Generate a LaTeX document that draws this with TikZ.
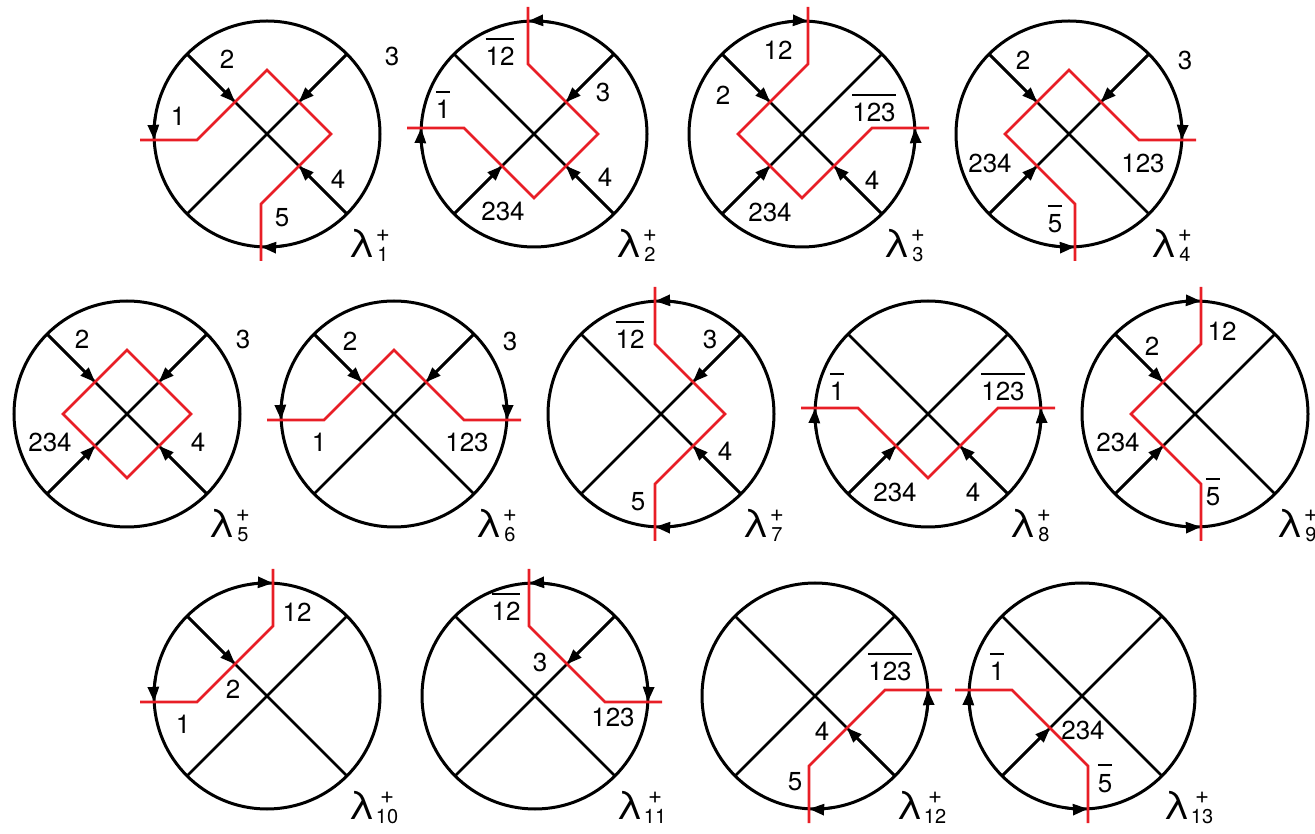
\documentclass[tikz,border=0pt]{standalone}
\usepackage{fontspec}
\setmainfont{TeX Gyre Heros}
\usetikzlibrary{arrows.meta}
\definecolor{pathred}{RGB}{232,30,38}
\newcommand\ob[1]{\vbox{\hrule height 1.5pt\kern 8pt\hbox{#1}}}
\newcommand\lam[1]{{\fontsize{39}{39}\selectfont λ}\kern1pt\raisebox{-4pt}{\fontsize{20}{20}\selectfont\begin{tabular}[b]{@{}c@{}}{\fontsize{24}{24}\selectfont+}\\#1\end{tabular}}}
\tikzset{
    rim/.style={draw=black,line width=3pt},
    xline/.style={draw=black,line width=2.6pt},
    redpath/.style={draw=pathred,line width=2.6pt},
    arrowed/.style={-{Triangle[length=15pt,width=11pt]},line width=2.6pt},
    lab/.style={inner sep=0pt,anchor=base,font=\fontsize{26}{26}\selectfont,yshift=-9pt},
    tag/.style={inner sep=0pt,anchor=base west}
}

\begin{document}
\begin{tikzpicture}[x=1pt,y=1pt]
\useasboundingbox (0,0) rectangle (1315,833);

% discs with their crosses
\foreach \n/\x/\y in {1/267/699,2/534/699,3/802/699,4/1069/699,
    5/127/419,6/394/419,7/661/419,8/928/419,9/1195/419,
    10/267/137,11/535/137,12/815/137,13/1082/137}{
  \coordinate (c\n) at (\x,\y);
  \draw[rim] (c\n) circle (113);
  \begin{scope}[shift={(c\n)}]
    \draw[xline] (135:113) -- (315:113);
    \draw[xline] (45:113) -- (225:113);
    \node[tag] (lam\n) at (81,-124) {\lam{\n}};
  \end{scope}
}

% lambda 1
\begin{scope}[shift={(c1)}]
  \draw[arrowed] (171:113) arc (171:183:113);
  \draw[arrowed] (279:113) arc (279:267:113);
  \draw[arrowed] (135:113) -- (135:45);
  \draw[arrowed] (45:113) -- (45:45);
  \draw[arrowed] (315:113) -- (315:45);
  \draw[redpath] (-127,-6) -- (-70,-6) -- (0,64) -- (64,0) -- (-6,-70) -- (-6,-127);
  \node[lab] (t1-1) at (-89,17) {1};
  \node[lab] (t1-2) at (-40,74) {2};
  \node[lab] (t1-3) at (125,77) {3};
  \node[lab] (t1-4) at (71,-46) {4};
  \node[lab] (t1-5) at (15,-84) {5};
\end{scope}

% lambda 2
\begin{scope}[shift={(c2)}]
  \draw[arrowed] (81:113) arc (81:93:113);
  \draw[arrowed] (189:113) arc (189:177:113);
  \draw[arrowed] (45:113) -- (45:45);
  \draw[arrowed] (225:113) -- (225:45);
  \draw[arrowed] (315:113) -- (315:45);
  \draw[redpath] (-6,127) -- (-6,70) -- (64,0) -- (0,-64) -- (-70,6) -- (-127,6);
  \node[lab] (t2-12) at (-34,77) {\ob{12}};
  \node[lab] (t2-1) at (-91,24) {\ob{1}};
  \node[lab] (t2-3) at (69,41) {3};
  \node[lab] (t2-4) at (71,-44) {4};
  \node[lab] (t2-234) at (-31,-78) {234};
\end{scope}

% lambda 3
\begin{scope}[shift={(c3)}]
  \draw[arrowed] (99:113) arc (99:87:113);
  \draw[arrowed] (-9:113) arc (-9:3:113);
  \draw[arrowed] (135:113) -- (135:45);
  \draw[arrowed] (225:113) -- (225:45);
  \draw[arrowed] (315:113) -- (315:45);
  \draw[redpath] (6,127) -- (6,70) -- (-64,0) -- (0,-64) -- (70,6) -- (127,6);
  \node[lab] (t3-12) at (-24,83) {12};
  \node[lab] (t3-2) at (-79,38) {2};
  \node[lab] (t3-123) at (72,21) {\ob{123}};
  \node[lab] (t3-4) at (70,-47) {4};
  \node[lab] (t3-234) at (-32,-79) {234};
\end{scope}

% lambda 4
\begin{scope}[shift={(c4)}]
  \draw[arrowed] (9:113) arc (9:-3:113);
  \draw[arrowed] (261:113) arc (261:273:113);
  \draw[arrowed] (135:113) -- (135:45);
  \draw[arrowed] (45:113) -- (45:45);
  \draw[arrowed] (225:113) -- (225:45);
  \draw[redpath] (127,-6) -- (70,-6) -- (0,64) -- (-64,0) -- (6,-70) -- (6,-127);
  \node[lab] (t4-2) at (-46,73) {2};
  \node[lab] (t4-3) at (116,73) {3};
  \node[lab] (t4-234) at (-79,-30) {234};
  \node[lab] (t4-123) at (74,-30) {123};
  \node[lab] (t4-5) at (-14,-90) {\ob{5}};
\end{scope}

% lambda 5
\begin{scope}[shift={(c5)}]
  \draw[arrowed] (135:113) -- (135:45);
  \draw[arrowed] (45:113) -- (45:45);
  \draw[arrowed] (225:113) -- (225:45);
  \draw[arrowed] (315:113) -- (315:45);
  \draw[redpath] (0,64) -- (64,0) -- (0,-64) -- (-64,0) -- cycle;
  \node[lab] (t5-2) at (-45,74) {2};
  \node[lab] (t5-3) at (116,74) {3};
  \node[lab] (t5-234) at (-77,-29) {234};
  \node[lab] (t5-4) at (71,-29) {4};
\end{scope}

% lambda 6
\begin{scope}[shift={(c6)}]
  \draw[arrowed] (171:113) arc (171:183:113);
  \draw[arrowed] (9:113) arc (9:-3:113);
  \draw[arrowed] (135:113) -- (135:45);
  \draw[arrowed] (45:113) -- (45:45);
  \draw[redpath] (-127,-6) -- (-70,-6) -- (0,64) -- (70,-6) -- (127,-6);
  \node[lab] (t6-2) at (-44,72) {2};
  \node[lab] (t6-3) at (116,72) {3};
  \node[lab] (t6-1) at (-75,-29) {1};
  \node[lab] (t6-123) at (73,-29) {123};
\end{scope}

% lambda 7
\begin{scope}[shift={(c7)}]
  \draw[arrowed] (81:113) arc (81:93:113);
  \draw[arrowed] (279:113) arc (279:267:113);
  \draw[arrowed] (45:113) -- (45:45);
  \draw[arrowed] (315:113) -- (315:45);
  \draw[redpath] (-6,127) -- (-6,70) -- (64,0) -- (-6,-70) -- (-6,-127);
  \node[lab] (t7-12) at (-31,74) {\ob{12}};
  \node[lab] (t7-3) at (49,74) {3};
  \node[lab] (t7-4) at (64,-38) {4};
  \node[lab] (t7-5) at (-23,-88) {5};
\end{scope}

% lambda 8
\begin{scope}[shift={(c8)}]
  \draw[arrowed] (189:113) arc (189:177:113);
  \draw[arrowed] (-9:113) arc (-9:3:113);
  \draw[arrowed] (225:113) -- (225:45);
  \draw[arrowed] (315:113) -- (315:45);
  \draw[redpath] (-127,6) -- (-70,6) -- (0,-64) -- (70,6) -- (127,6);
  \node[lab] (t8-1) at (-91,22) {\ob{1}};
  \node[lab] (t8-123) at (75,22) {\ob{123}};
  \node[lab] (t8-234) at (-33,-79) {234};
  \node[lab] (t8-4) at (45,-79) {4};
\end{scope}

% lambda 9
\begin{scope}[shift={(c9)}]
  \draw[arrowed] (99:113) arc (99:87:113);
  \draw[arrowed] (261:113) arc (261:273:113);
  \draw[arrowed] (135:113) -- (135:45);
  \draw[arrowed] (225:113) -- (225:45);
  \draw[redpath] (6,127) -- (6,70) -- (-64,0) -- (6,-70) -- (6,-127);
  \node[lab] (t9-12) at (27,82) {12};
  \node[lab] (t9-2) at (-43,67) {2};
  \node[lab] (t9-234) at (-77,-29) {234};
  \node[lab] (t9-5) at (18,-83) {\ob{5}};
\end{scope}

% lambda 10
\begin{scope}[shift={(c10)}]
  \draw[arrowed] (171:113) arc (171:183:113);
  \draw[arrowed] (99:113) arc (99:87:113);
  \draw[arrowed] (135:113) -- (135:45);
  \draw[redpath] (-127,-6) -- (-70,-6) -- (6,70) -- (6,127);
  \node[lab] (t10-12) at (30,83) {12};
  \node[lab] (t10-2) at (-34,6) {2};
  \node[lab] (t10-1) at (-84,-29) {1};
\end{scope}

% lambda 11
\begin{scope}[shift={(c11)}]
  \draw[arrowed] (81:113) arc (81:93:113);
  \draw[arrowed] (9:113) arc (9:-3:113);
  \draw[arrowed] (45:113) -- (45:45);
  \draw[redpath] (-6,127) -- (-6,70) -- (70,-6) -- (127,-6);
  \node[lab] (t11-12) at (-29,84) {\ob{12}};
  \node[lab] (t11-3) at (5,33) {3};
  \node[lab] (t11-123) at (78,-22) {123};
\end{scope}

% lambda 12
\begin{scope}[shift={(c12)}]
  \draw[arrowed] (-9:113) arc (-9:3:113);
  \draw[arrowed] (279:113) arc (279:267:113);
  \draw[arrowed] (315:113) -- (315:45);
  \draw[redpath] (127,6) -- (70,6) -- (-6,-70) -- (-6,-127);
  \node[lab] (t12-123) at (75,24) {\ob{123}};
  \node[lab] (t12-4) at (7,-36) {4};
  \node[lab] (t12-5) at (-20,-86) {5};
\end{scope}

% lambda 13
\begin{scope}[shift={(c13)}]
  \draw[arrowed] (189:113) arc (189:177:113);
  \draw[arrowed] (261:113) arc (261:273:113);
  \draw[arrowed] (225:113) -- (225:45);
  \draw[redpath] (-127,6) -- (-70,6) -- (6,-70) -- (6,-127);
  \node[lab] (t13-1) at (-85,24) {\ob{1}};
  \node[lab] (t13-234) at (1,-35) {234};
  \node[lab] (t13-5) at (23,-87) {\ob{5}};
\end{scope}

\end{tikzpicture}
\end{document}
